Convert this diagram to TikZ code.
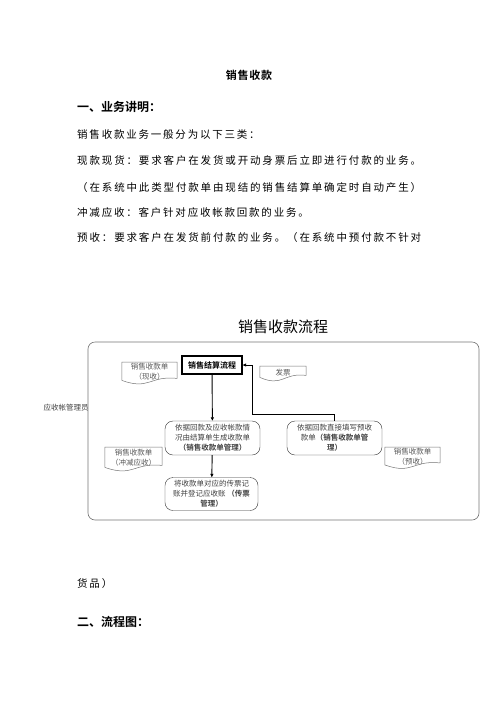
\documentclass[tikz,border=0pt]{standalone}
\usepackage{fontspec}
\setmainfont{Noto Sans CJK SC}[BoldFont={Noto Sans CJK SC Bold}]
\usetikzlibrary{arrows.meta,calc}
% justified line: characters spread over a fixed width
\newcommand\spreadtext[2]{\makebox[#1][s]{\spreadloop#2\relax}}
\def\spreadloop#1#2{#1\ifx#2\relax\else\hfill\expandafter\spreadloop\expandafter#2\fi}

\begin{document}
\begin{tikzpicture}[x=1pt,y=-1pt]
\tikzset{
  bodytext/.style={anchor=west,inner sep=0pt,font=\fontsize{10.5}{12}\selectfont\addfontfeature{LetterSpace=17}},
  headtext/.style={anchor=west,inner sep=0pt,font=\fontsize{12}{14}\selectfont\bfseries},
  roundbox/.style={draw=black!80,rounded corners=8pt,align=center,inner sep=1pt,font=\fontsize{7.5}{10}\selectfont,text=black!75},
  settlebox/.style={draw,line width=1.2pt,minimum width=60pt,minimum height=18pt,inner sep=1pt,font=\fontsize{8}{9}\selectfont\bfseries},
  docnode/.style={align=center,inner sep=1pt,font=\fontsize{7.5}{9.5}\selectfont,text=black!65,anchor=north},
  docline/.style={draw=black!55,line width=0.5pt},
  flowarrow/.style={-{Triangle[length=3.5pt,width=3pt]},line width=0.9pt}
}
\useasboundingbox (0,0) rectangle (496,702);
% page text
\node[font=\fontsize{11}{13}\selectfont\bfseries\addfontfeature{LetterSpace=7}] (n_title) at (249,75) {销售收款};
\node[headtext] (n_head1) at (77,107) {一、业务讲明：};
\node[bodytext] (n_line1) at (77,135) {销售收款业务一般分为以下三类：};
\node[bodytext,font=\fontsize{10.5}{12}\selectfont] (n_line2) at (77,161) {\spreadtext{344pt}{现款现货：要求客户在发货或开动身票后立即进行付款的业务。}};
\node[bodytext,font=\fontsize{10.5}{12}\selectfont] (n_line3) at (77,188) {\spreadtext{344pt}{（在系统中此类型付款单由现结的销售结算单确定时自动产生）}};
\node[bodytext] (n_line4) at (77,212) {冲减应收：客户针对应收帐款回款的业务。};
\node[bodytext,font=\fontsize{10.5}{12}\selectfont] (n_line5) at (77,238) {\spreadtext{344pt}{预收：要求客户在发货前付款的业务。（在系统中预付款不针对}};
\node[bodytext] (n_tail) at (77,584) {货品）};
\node[headtext] (n_head2) at (77,622) {二、流程图：};
% flow chart
\node[font=\fontsize{15}{17}\selectfont] (n_flowtitle) at (283,327) {销售收款流程};
\draw[draw=black!55,line width=0.6pt,rounded corners=7pt] (88,342) rectangle (479,520);
\node[font=\fontsize{7.5}{9}\selectfont,text=black!75,inner sep=0pt] (n_role) at (66,408) {应收帐管理员};
\node[settlebox] (n_settle) at (212,365) {销售结算流程};
\node[docnode,minimum width=55pt,minimum height=19pt] (n_xianshou) at (149.5,362) {销售收款单\\（现收）};
\node[docnode,minimum width=46pt,minimum height=12pt] (n_fapiao) at (283,366) {发票};
\node[roundbox,minimum width=95pt,minimum height=34pt] (n_huikuan) at (212.5,438) {依据回款及应收帐款情\\况由结算单生成收款单\\\textbf{（销售收款单管理）}};
\node[roundbox,minimum width=95pt,minimum height=34pt] (n_yushoudan) at (334.5,438) {依据回款直接填写预收\\款单\textbf{（销售收款单管}\\\textbf{理）}};
\node[roundbox,minimum width=93pt,minimum height=33pt] (n_chuanpiao) at (211.5,494) {将收款单对应的传票记\\账并登记应收账 \textbf{（传票}\\\textbf{管理）}};
\node[docnode,minimum width=57pt,minimum height=21pt] (n_chongjian) at (133.5,447) {销售收款单\\（冲减应收）};
\node[docnode,minimum width=55pt,minimum height=17pt] (n_yushou) at (412.5,447) {销售收款单\\（预收）};
\coordinate (c_turn) at (252,414);
% document shapes
\foreach \d in {n_xianshou,n_fapiao,n_chongjian,n_yushou}
  \draw[docline] ([yshift=1pt]\d.south west) -- (\d.north west) -- (\d.north east) -- ([yshift=3pt]\d.south east)
    .. controls ($(\d.south)+(0pt,6pt)$) and ($(\d.south)+(0pt,-9pt)$) .. ([yshift=1pt]\d.south west);
% connectors
\draw[flowarrow] (n_settle) -- (n_huikuan);
\draw[flowarrow] (n_huikuan) -- (n_chuanpiao);
\draw[flowarrow] (n_yushoudan.north) |- (c_turn) |- (n_settle.east);
\end{tikzpicture}
\end{document}
